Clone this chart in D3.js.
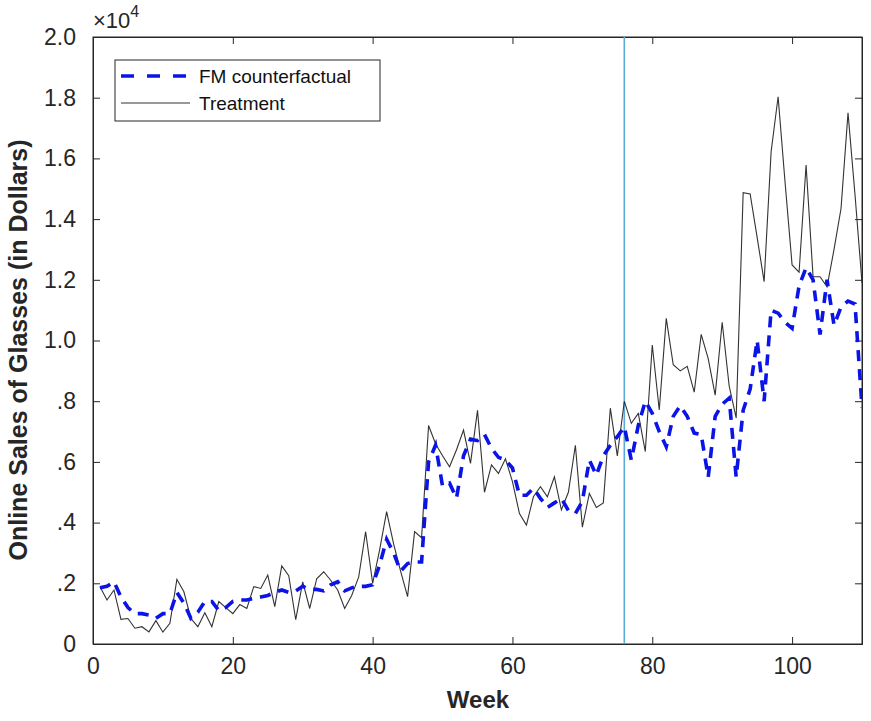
<!DOCTYPE html>
<html>
<head>
<meta charset="utf-8">
<script src="https://cdn.jsdelivr.net/npm/d3@7"></script>
<style>
  html, body { margin: 0; padding: 0; background: #fff; }
  svg { display: block; font-family: "Liberation Sans", Arial, sans-serif; }
</style>
</head>
<body>
<svg id="chart" width="871" height="721"></svg>
<script>
// ---- data (sales in dollars, weeks 1..110) ----
const weeks = d3.range(1, 111);
const treatment = [
  1890,1450,1780,810,840,520,570,400,770,390,
  680,2130,1720,840,570,1030,570,1400,1200,1000,
  1300,1170,1890,1830,2270,1230,2570,2250,800,2050,
  1170,2150,2380,2100,1780,1170,1600,2200,3700,2000,
  3100,4360,3300,2400,1560,3700,3500,7200,6600,6200,
  5840,6400,7050,5950,7700,5000,5900,5620,6100,5350,
  4300,3920,4850,5180,4850,5510,4420,5000,6550,3850,
  4960,4500,4650,7770,6200,8000,7270,7600,6340,9850,
  7710,10730,9200,9000,9150,8300,10200,9400,8200,10600,
  8500,7450,14870,14830,13400,11940,16220,18030,15200,12490,
  12250,15780,12100,12100,11770,13000,14350,17500,14800,11900
];
const counterfactual = [
  1850,1900,2050,1550,1200,1000,1000,950,850,1000,
  1000,1700,1350,850,1050,1400,1400,1100,1200,1400,
  1450,1450,1500,1550,1600,1700,1780,1700,1750,1900,
  1800,1800,1750,1950,2050,1750,1850,1900,1900,1950,
  2600,3450,3000,2400,2650,2700,2700,6000,6550,5200,
  5300,4800,6200,6750,6700,6900,6450,6150,6060,5800,
  4900,4900,5130,4800,4500,4650,4800,4400,4300,4700,
  6060,5560,6200,6550,6830,7160,6060,7200,8000,7600,
  7000,6500,7500,7850,7500,6950,6900,5500,7500,7900,
  8100,5500,7700,8400,10000,8000,11000,10900,10600,10400,
  11800,12400,12000,10200,12000,10500,11100,11300,11200,7800
];
const interventionWeek = 76;
const xTicks = [0, 20, 40, 60, 80, 100];
const yTicks = [0, 2000, 4000, 6000, 8000, 10000, 12000, 14000, 16000, 18000, 20000];
const yTickLabels = ["0", ".2", ".4", ".6", ".8", "1.0", "1.2", "1.4", "1.6", "1.8", "2.0"];
const seriesNames = ["FM counterfactual", "Treatment"];

// ---- layout ----
const svg = d3.select("#chart");
const L = 93, R = 862, T = 37, B = 644;
const x = d3.scaleLinear().domain([0, 110]).range([L, R]);
const y = d3.scaleLinear().domain([0, 20000]).range([B, T]);
const axisColor = "#262626";
const tickLen = 7;

// plot box
svg.append("rect").attr("x", L).attr("y", T).attr("width", R - L).attr("height", B - T)
  .attr("fill", "#fff").attr("stroke", axisColor).attr("stroke-width", 1);

// axes (ticks inward)
const xAxis = svg.append("g").attr("transform", `translate(0,${B})`)
  .call(d3.axisBottom(x).tickValues(xTicks).tickSize(-tickLen).tickPadding(14).tickFormat(d3.format("d")));
const xAxisTop = svg.append("g").attr("transform", `translate(0,${T})`)
  .call(d3.axisTop(x).tickValues(xTicks).tickSize(-tickLen).tickFormat(""));
const yAxis = svg.append("g").attr("transform", `translate(${L},0)`)
  .call(d3.axisLeft(y).tickValues(yTicks).tickSize(-tickLen).tickPadding(17)
    .tickFormat((d, i) => yTickLabels[i]));
const yAxisR = svg.append("g").attr("transform", `translate(${R},0)`)
  .call(d3.axisRight(y).tickValues(yTicks).tickSize(-tickLen).tickFormat(""));
[xAxis, xAxisTop, yAxis, yAxisR].forEach(g => {
  g.select(".domain").attr("stroke", axisColor);
  g.selectAll(".tick line").attr("stroke", axisColor);
  g.selectAll("text").attr("fill", axisColor).style("font-size", "23px")
    .style("font-family", "'Liberation Sans', Arial, sans-serif");
});
xAxis.selectAll("text").attr("dy", "0.71em");

// exponent label
const exp = svg.append("text").attr("x", L).attr("y", 28).attr("fill", axisColor)
  .style("font-size", "22px");
exp.append("tspan").text("\u00d710");
exp.append("tspan").attr("dy", -11).style("font-size", "16px").text("4");

// axis titles
svg.append("text").attr("x", 478).attr("y", 708).attr("text-anchor", "middle")
  .attr("fill", axisColor).style("font-size", "24px").style("font-weight", "bold").text("Week");
svg.append("text").attr("transform", `translate(27,350) rotate(-90)`)
  .attr("text-anchor", "middle").attr("fill", axisColor)
  .style("font-size", "25px").style("font-weight", "bold")
  .text("Online Sales of Glasses (in Dollars)");

// clip
svg.append("clipPath").attr("id", "clip").append("rect")
  .attr("x", L).attr("y", T).attr("width", R - L).attr("height", B - T);
const plot = svg.append("g").attr("clip-path", "url(#clip)");

// intervention line
plot.append("line").attr("x1", x(interventionWeek)).attr("x2", x(interventionWeek))
  .attr("y1", T).attr("y2", B).attr("stroke", "#5aa9d6").attr("stroke-width", 1.6);

const line = d3.line().x(d => x(d[0])).y(d => y(d[1]));
const tData = weeks.map((w, i) => [w, treatment[i]]);
const cData = weeks.map((w, i) => [w, counterfactual[i]]);

plot.append("path").datum(tData).attr("d", line).attr("fill", "none")
  .attr("stroke", "#333").attr("stroke-width", 1.1);
plot.append("path").datum(cData).attr("d", line).attr("fill", "none")
  .attr("stroke", "#0b14e6").attr("stroke-width", 3.6).attr("stroke-dasharray", "11,8");

// legend
const lg = svg.append("g");
lg.append("rect").attr("x", 115).attr("y", 60).attr("width", 265).attr("height", 61)
  .attr("fill", "#fff").attr("stroke", axisColor).attr("stroke-width", 1);
lg.append("line").attr("x1", 121).attr("x2", 190).attr("y1", 76).attr("y2", 76)
  .attr("stroke", "#0b14e6").attr("stroke-width", 3.6).attr("stroke-dasharray", "13,13");
lg.append("line").attr("x1", 121).attr("x2", 190).attr("y1", 103).attr("y2", 103)
  .attr("stroke", "#333").attr("stroke-width", 1.1);
lg.selectAll("text.leg").data(seriesNames).enter().append("text")
  .attr("class", "leg").attr("x", 199).attr("y", (d, i) => 76 + i * 27).attr("dy", "0.35em")
  .attr("fill", "#111").style("font-size", "19px").text(d => d);
</script>
</body>
</html>
